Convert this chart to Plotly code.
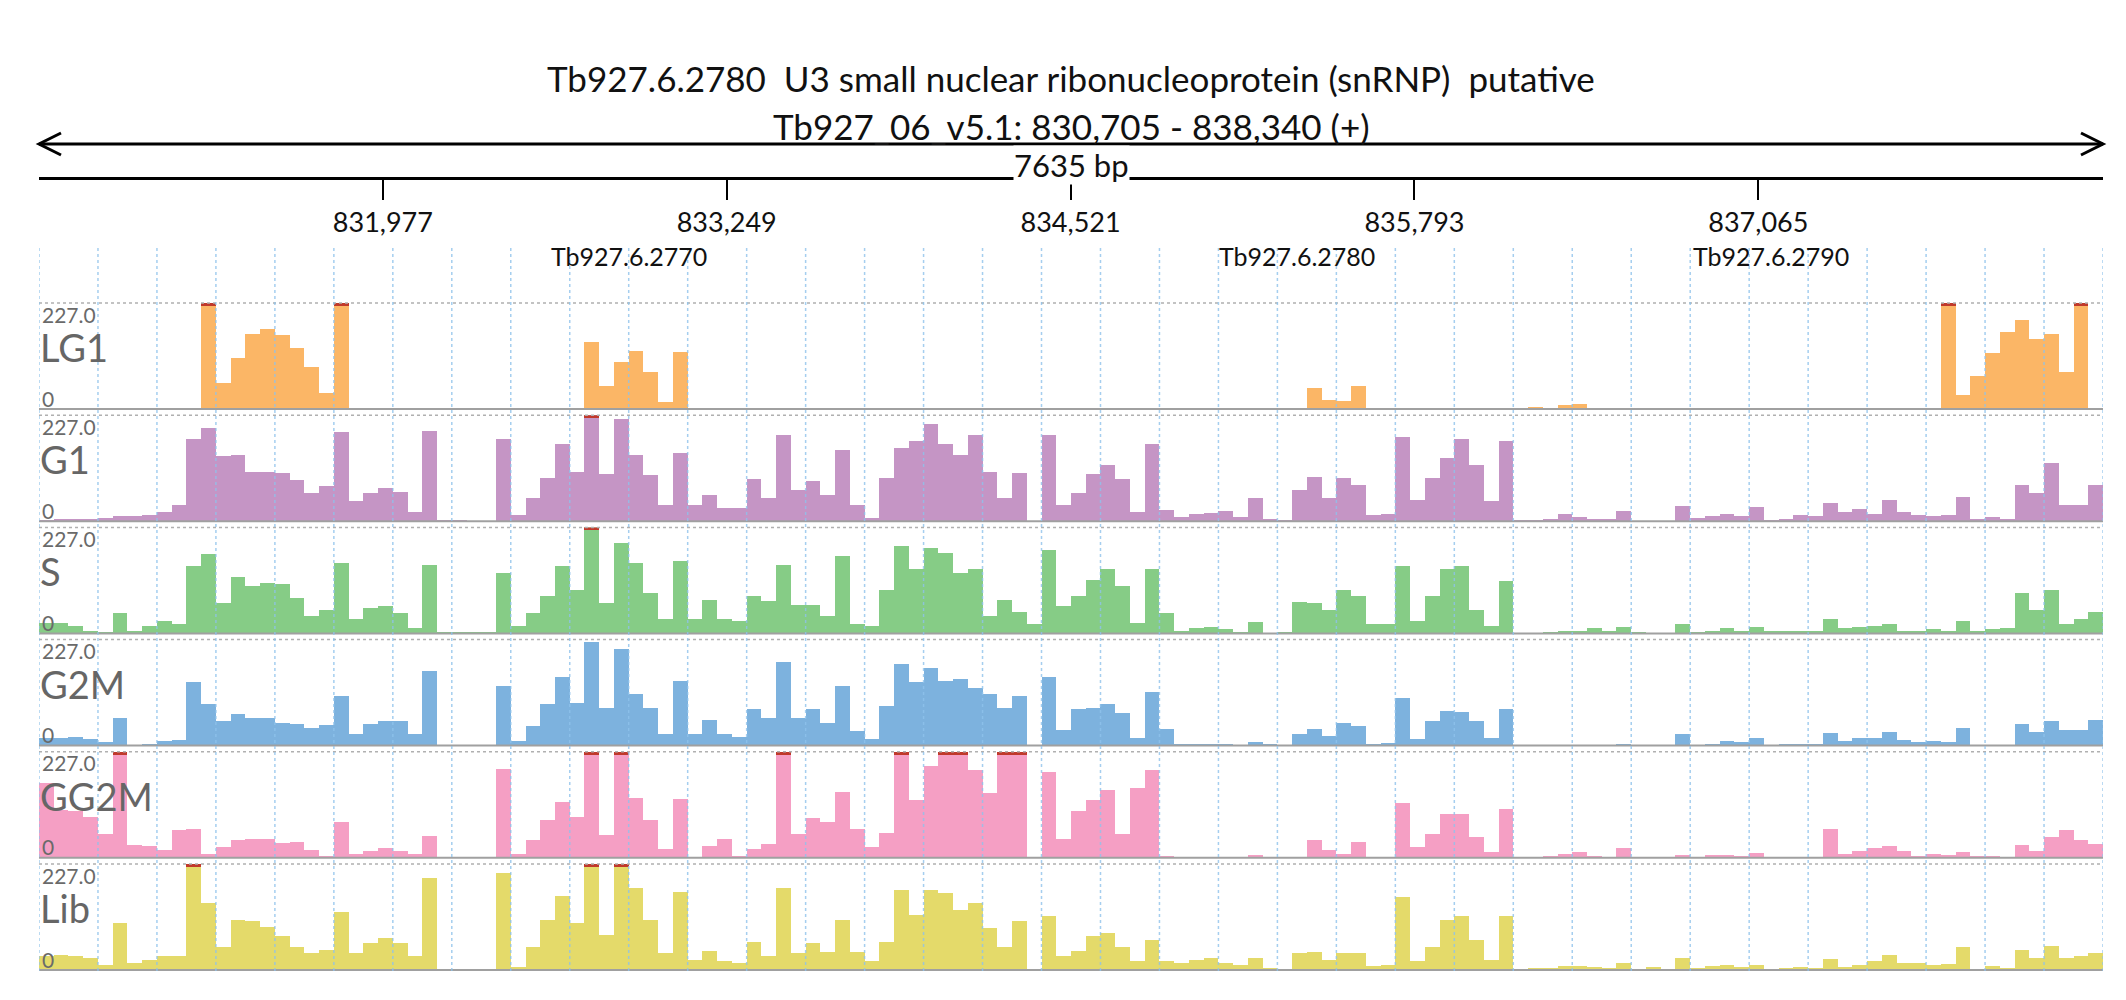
import numpy as np
import plotly.graph_objects as go

REGION_START = 830705
REGION_END = 838340
BIN_BP = (REGION_END - REGION_START) / 140  # fixed-step coverage bins
Y_MAX = 227.0

title_line1 = "Tb927.6.2780  U3 small nuclear ribonucleoprotein (snRNP)  putative"
title_line2 = "Tb927_06_v5.1: 830,705 - 838,340 (+)"
span_label = "7635 bp"
tick_values = [831977, 833249, 834521, 835793, 837065]

gene_names = ["Tb927.6.2770", "Tb927.6.2780", "Tb927.6.2790"]
gene_starts = [831252, 834907, 836215]
gene_ends = [834524, 835809, 838106]
cds_starts = [831252, 834946, 836332]
cds_ends = [834524, 835809, 837293]

track_names = ["LG1", "G1", "S", "G2M", "GG2M", "Lib"]
track_colors = ["#fbb05a", "#c08dc0", "#7cc87c", "#72acdc", "#f597bf", "#e2d75e"]

lg1 = [0, 0, 0, 0, 0, 0, 0, 0, 0, 0, 0, 250, 55, 110, 160, 172, 158, 130, 90, 35,
       250, 0, 0, 0, 0, 0, 0, 0, 0, 0, 0, 0, 0, 0, 0, 0, 0, 143, 50, 100,
       125, 80, 15, 122, 0, 0, 0, 0, 0, 0, 0, 0, 0, 0, 0, 0, 0, 0, 0, 0,
       0, 0, 0, 0, 0, 0, 0, 0, 0, 0, 0, 0, 0, 0, 0, 0, 0, 0, 0, 0,
       0, 0, 0, 0, 0, 0, 45, 20, 18, 50, 0, 0, 0, 0, 0, 0, 0, 0, 0, 0,
       0, 5, 0, 8, 10, 0, 2, 0, 2, 0, 0, 0, 0, 0, 0, 0, 0, 0, 0, 0,
       0, 0, 0, 0, 0, 0, 0, 0, 0, 250, 30, 70, 120, 165, 190, 150, 160, 80, 250, 0]
g1 = [2, 3, 3, 5, 6, 10, 10, 13, 20, 35, 175, 200, 140, 142, 106, 106, 103, 88, 60, 75,
      190, 42, 60, 70, 63, 20, 192, 2, 2, 0, 0, 175, 13, 49, 92, 164, 106, 250, 100, 218,
      142, 99, 35, 146, 35, 55, 27, 27, 90, 49, 185, 67, 85, 56, 153, 35, 6, 92, 157, 171,
      207, 164, 142, 185, 106, 49, 103, 0, 185, 35, 60, 100, 120, 90, 20, 164, 24, 8, 15, 18,
      22, 8, 49, 3, 1, 67, 95, 49, 92, 78, 13, 15, 180, 45, 92, 135, 175, 120, 42, 171,
      1, 2, 3, 15, 8, 4, 3, 22, 0, 0, 0, 33, 6, 10, 15, 10, 29, 2, 5, 12,
      10, 38, 20, 25, 15, 45, 20, 12, 10, 12, 52, 3, 8, 5, 78, 60, 124, 35, 35, 78]
s = [21, 21, 15, 5, 2, 43, 5, 15, 25, 20, 143, 170, 64, 121, 100, 107, 104, 75, 36, 50,
     150, 29, 54, 57, 43, 11, 146, 1, 1, 1, 1, 128, 14, 43, 79, 143, 93, 250, 64, 193,
     150, 86, 29, 154, 29, 70, 29, 25, 80, 68, 146, 61, 60, 36, 164, 20, 15, 93, 186, 136,
     182, 171, 128, 136, 36, 70, 46, 20, 178, 57, 80, 114, 136, 100, 21, 136, 43, 3, 10, 12,
     8, 1, 24, 0, 1, 66, 64, 50, 93, 79, 20, 20, 143, 25, 79, 136, 143, 50, 14, 111,
     0, 0, 1, 3, 5, 10, 5, 12, 2, 0, 0, 20, 2, 5, 10, 5, 12, 3, 3, 3,
     3, 30, 10, 13, 15, 20, 5, 5, 8, 5, 25, 3, 8, 10, 86, 50, 93, 20, 30, 46]
g2m = [18, 18, 20, 15, 8, 61, 2, 5, 10, 12, 136, 90, 54, 68, 61, 60, 50, 47, 39, 45,
       107, 25, 47, 54, 54, 25, 161, 1, 1, 1, 1, 129, 11, 43, 90, 147, 93, 222, 82, 208,
       111, 82, 25, 140, 25, 55, 25, 20, 80, 61, 179, 61, 79, 50, 129, 32, 15, 86, 175, 136,
       168, 140, 143, 125, 111, 82, 107, 0, 147, 35, 80, 82, 91, 70, 18, 115, 36, 5, 3, 3,
       3, 2, 8, 3, 1, 25, 36, 21, 50, 43, 5, 7, 102, 15, 54, 75, 72, 54, 18, 79,
       1, 0, 0, 1, 0, 2, 1, 5, 0, 1, 0, 25, 2, 5, 10, 8, 18, 2, 4, 4,
       3, 27, 10, 18, 18, 31, 12, 8, 10, 8, 38, 1, 2, 2, 47, 30, 54, 35, 35, 56]
gg2m = [160, 103, 100, 88, 52, 250, 27, 25, 17, 60, 63, 9, 24, 38, 40, 40, 33, 35, 18, 5,
        78, 8, 15, 22, 15, 8, 47, 0, 0, 0, 0, 190, 8, 38, 81, 121, 88, 250, 49, 250,
        128, 81, 20, 126, 0, 25, 40, 5, 20, 30, 250, 52, 85, 78, 142, 63, 24, 54, 250, 124,
        196, 250, 250, 189, 139, 250, 250, 0, 185, 40, 100, 124, 146, 52, 150, 189, 5, 2, 2, 1,
        1, 0, 6, 0, 0, 0, 38, 17, 9, 34, 0, 2, 118, 24, 52, 95, 95, 45, 13, 106,
        0, 1, 3, 8, 12, 5, 1, 22, 0, 0, 0, 6, 2, 6, 6, 3, 10, 1, 0, 0,
        0, 63, 8, 15, 22, 25, 15, 5, 8, 6, 12, 3, 4, 2, 27, 15, 45, 60, 38, 31]
lib = [29, 32, 30, 25, 10, 100, 15, 21, 30, 30, 250, 143, 50, 107, 104, 93, 72, 50, 36, 43,
       125, 36, 57, 68, 57, 29, 197, 0, 0, 0, 0, 208, 7, 50, 107, 158, 100, 250, 75, 250,
       175, 107, 36, 168, 21, 40, 20, 15, 60, 29, 175, 36, 57, 39, 107, 39, 20, 61, 172, 118,
       172, 165, 129, 143, 89, 50, 104, 0, 115, 30, 40, 72, 79, 50, 20, 64, 20, 15, 21, 25,
       14, 10, 26, 5, 1, 36, 39, 21, 36, 36, 8, 10, 156, 20, 50, 107, 115, 64, 21, 115,
       0, 5, 3, 8, 8, 7, 4, 16, 0, 7, 0, 26, 3, 8, 10, 7, 11, 0, 3, 7,
       5, 23, 7, 10, 20, 32, 15, 15, 10, 12, 50, 2, 8, 5, 43, 25, 52, 25, 30, 36]
track_values = [lg1, g1, s, g2m, gg2m, lib]

W, H = 2126, 1000
X0_PX, X1_PX = 31, 2095


def py(y_px):
    return 1 - y_px / H


def px(x_px):
    return x_px / W


def label(text, x, y, size, color="#111", **kw):
    fig.add_annotation(x=x, y=y, xref="paper", yref="paper", text=text, showarrow=False,
                       font=dict(size=size, color=color), **kw)


fig = go.Figure()
layout_axes = {}
bin_centers = REGION_START + BIN_BP * (np.arange(140) + 0.5)

for i, (name, color, vals) in enumerate(zip(track_names, track_colors, track_values)):
    k = i + 2
    top_px = 295 + 112.2 * i
    base_px = top_px + 106
    vals = np.array(vals, dtype=float)
    fig.add_trace(go.Bar(x=bin_centers, y=np.minimum(vals, Y_MAX), width=BIN_BP, marker=dict(color=color, line=dict(width=0)),
                         opacity=0.92, xaxis="x", yaxis=f"y{k}", showlegend=False))
    clipped = vals >= Y_MAX
    fig.add_trace(go.Bar(x=bin_centers[clipped], y=[6] * int(clipped.sum()), base=Y_MAX - 6, width=BIN_BP,
                         marker=dict(color="#c0392b", line=dict(width=0)), xaxis="x", yaxis=f"y{k}", showlegend=False))
    layout_axes[f"yaxis{k}"] = dict(domain=[py(base_px), py(top_px)], range=[0, Y_MAX], visible=False, fixedrange=True)
    fig.add_shape(type="line", xref="paper", yref="paper", x0=px(X0_PX), x1=px(X1_PX), y0=py(top_px), y1=py(top_px),
                  line=dict(color="#b0b0b0", width=1.5, dash="dot"))
    fig.add_shape(type="line", xref="paper", yref="paper", x0=px(X0_PX), x1=px(X1_PX), y0=py(base_px), y1=py(base_px),
                  line=dict(color="#a0a0a0", width=2))
    label("227.0", px(32), py(top_px + 11), 21, "#6a6a6a", xanchor="left", yanchor="middle")
    label(name, px(30), py(top_px + 44), 38, "#666666", xanchor="left", yanchor="middle")
    label("0", px(32), py(top_px + 95), 21, "#6a6a6a", xanchor="left", yanchor="middle")

# vertical dotted grid
for g in np.linspace(REGION_START, REGION_END, 36):
    fig.add_shape(type="line", xref="x", yref="paper", x0=g, x1=g, y0=py(963), y1=py(237),
                  line=dict(color="#8fc3ec", width=1.5, dash="dot"), layer="above", opacity=0.8)

# gene track
for name, gs, ge, cs, ce in zip(gene_names, gene_starts, gene_ends, cds_starts, cds_ends):
    fig.add_shape(type="rect", xref="x", yref="y", x0=gs, x1=ge, y0=0.171, y1=0.329, fillcolor="#555555",
                  line_width=0, layer="below")
    fig.add_shape(type="rect", xref="x", yref="y", x0=cs, x1=ce, y0=0.086, y1=0.4, fillcolor="#1a1a1a",
                  line_width=0, layer="below")
    chev = np.arange(gs + 30, ge - 20, 66)
    fig.add_trace(go.Scatter(x=chev, y=[0.243] * len(chev), mode="text", text=[">"] * len(chev),
                             textfont=dict(size=16, color="white", family="DejaVu Sans"), showlegend=False,
                             hoverinfo="skip", xaxis="x", yaxis="y"))
    lx = (gs + ge) / 2 if name != "Tb927.6.2790" else (cs + ce) / 2 + 300
    fig.add_annotation(x=lx, y=0.657, xref="x", yref="y", text=name, showarrow=False,
                       font=dict(size=25, color="#111"))

# invisible trace to render the coordinate axis
fig.add_trace(go.Scatter(x=[REGION_START, REGION_END], y=[0, 0], xaxis="x2", yaxis="y", mode="markers",
                         marker=dict(opacity=0), showlegend=False, hoverinfo="skip"))

# title and span arrow
label(title_line1, 0.5, py(47), 35)
label(title_line2, 0.5, py(95), 35)
fig.add_shape(type="line", xref="paper", yref="paper", x0=px(X0_PX), x1=px(X1_PX), y0=py(136), y1=py(136),
              line=dict(color="black", width=3))
for xe, d in [(X0_PX, 1), (X1_PX, -1)]:
    fig.add_shape(type="path", xref="paper", yref="paper",
                  path=f"M {px(xe + d * 22)},{py(125)} L {px(xe)},{py(136)} L {px(xe + d * 22)},{py(147)}",
                  line=dict(color="black", width=3))
label(span_label, 0.5, py(137), 31, bgcolor="white", borderpad=0)

fig.update_layout(
    width=W, height=H, margin=dict(l=0, r=0, t=0, b=0),
    plot_bgcolor="white", paper_bgcolor="white", bargap=0, barmode="overlay",
    font=dict(family="Lato, sans-serif"),
    xaxis=dict(domain=[px(X0_PX), px(X1_PX)], range=[REGION_START, REGION_END], visible=False, fixedrange=True),
    xaxis2=dict(domain=[px(X0_PX), px(X1_PX)], range=[REGION_START, REGION_END], anchor="free", position=py(169.5),
                side="bottom", showline=True, linecolor="black", linewidth=3, ticks="outside", ticklen=20,
                tickwidth=2, tickcolor="black", tickvals=tick_values, ticktext=[f"{v:,}" for v in tick_values],
                tickfont=dict(size=27, color="#111"), showgrid=False, zeroline=False, fixedrange=True),
    yaxis=dict(domain=[0.706, 0.776], range=[0, 1], visible=False, fixedrange=True),
    **layout_axes,
)

fig.write_html("out.html")
